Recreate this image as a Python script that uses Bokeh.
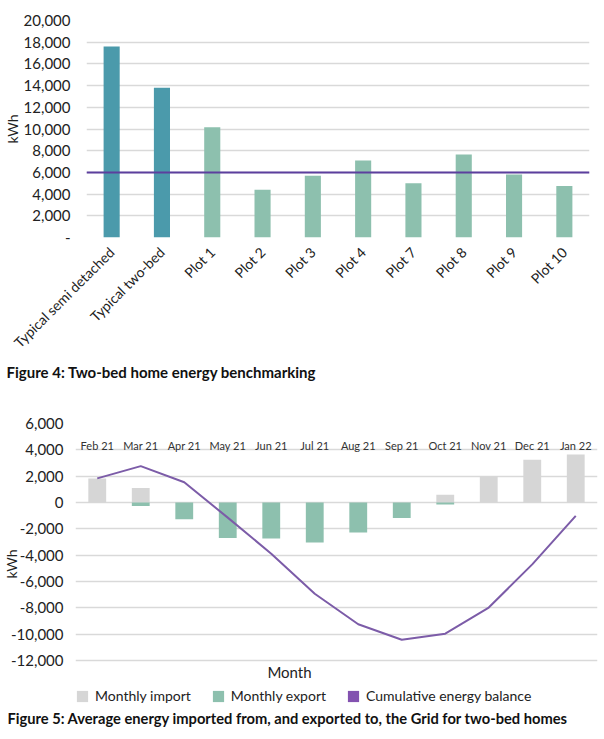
import math
from bokeh.plotting import figure
from bokeh.models import FactorRange, Range1d, Span, Title, Legend, LegendItem, NumeralTickFormatter, FixedTicker, Label
from bokeh.embed import file_html
from bokeh.resources import INLINE
from bokeh.core.properties import value

# ---------------- Figure 4 data ----------------
benchmark_categories = ["Typical semi detached", "Typical two-bed", "Plot 1", "Plot 2", "Plot 3",
                        "Plot 4", "Plot 7", "Plot 8", "Plot 9", "Plot 10"]
benchmark_kwh = [17600, 13800, 10150, 4400, 5700, 7100, 5000, 7650, 5800, 4750]
benchmark_is_typical = [True, True, False, False, False, False, False, False, False, False]
benchmark_target_kwh = 6000
benchmark_y_ticks = [0, 2000, 4000, 6000, 8000, 10000, 12000, 14000, 16000, 18000, 20000]

# ---------------- Figure 5 data ----------------
months = ["Feb 21", "Mar 21", "Apr 21", "May 21", "Jun 21", "Jul 21",
          "Aug 21", "Sep 21", "Oct 21", "Nov 21", "Dec 21", "Jan 22"]
monthly_import = [1830, 1110, 0, 0, 0, 0, 0, 0, 580, 1980, 3240, 3650]
monthly_export = [0, -260, -1270, -2690, -2740, -3040, -2280, -1170, -150, 0, 0, 0]
cumulative_balance = [1830, 2760, 1540, -1150, -3890, -6930, -9250, -10420, -9960, -7980, -4700, -1020]
grid_y_ticks = [-12000, -10000, -8000, -6000, -4000, -2000, 0, 2000, 4000, 6000]

FONT = "Lato"
CAP_FONT = "Lato"
GRID = "#d9d9d9"
DARK_TEAL = "#4b9aab"
LIGHT_TEAL = "#8dc0ae"
GREY = "#d6d6d6"
PURPLE1 = "#5c3f9e"
PURPLE2 = "#7c5ca8"
PURPLE_LEG = "#8352b0"
TEXT = "#222222"

# ================= Figure 4 =================
p1 = figure(x_range=FactorRange(factors=benchmark_categories, range_padding=0),
            y_range=Range1d(0, 20000),
            frame_width=503, frame_height=217,
            min_border_left=80, min_border_right=6, min_border_top=20, min_border_bottom=4,
            output_backend="svg", toolbar_location=None)
bar_colors = [DARK_TEAL if t else LIGHT_TEAL for t in benchmark_is_typical]
p1.vbar(x=benchmark_categories, top=benchmark_kwh, width=0.32, fill_color=bar_colors, line_color=None)
p1.add_layout(Span(location=benchmark_target_kwh, dimension="width", line_color=PURPLE1, line_width=2))

p1.yaxis.ticker = FixedTicker(ticks=benchmark_y_ticks)
p1.ygrid.ticker = FixedTicker(ticks=benchmark_y_ticks)
p1.yaxis.formatter = NumeralTickFormatter(format="0,0")
p1.yaxis.major_label_overrides = {0: "-"}
p1.yaxis.axis_label = "kWh"
p1.xgrid.grid_line_color = None
p1.ygrid.grid_line_color = GRID
p1.ygrid.grid_line_width = 1.5
p1.outline_line_color = None
for ax in (p1.xaxis, p1.yaxis):
    ax.axis_line_color = None
    ax.major_tick_line_color = None
    ax.minor_tick_line_color = None
    ax.major_label_text_font = FONT
    ax.major_label_text_color = TEXT
p1.yaxis.major_label_text_font_size = "15px"
p1.yaxis.major_label_standoff = 10
p1.yaxis.axis_label_text_font = FONT
p1.yaxis.axis_label_text_font_size = "14px"
p1.yaxis.axis_label_text_font_style = "normal"
p1.yaxis.axis_label_text_color = TEXT
p1.yaxis.axis_label_standoff = 0
p1.xaxis.major_label_text_font_size = "14px"
p1.xaxis.major_label_orientation = math.pi / 4
p1.xaxis.major_label_standoff = 6
p1.add_layout(Title(text="Figure 4: Two-bed home energy benchmarking", align="left", offset=-80,
                    standoff=2, text_font=CAP_FONT, text_font_style="bold", text_font_size="15px",
                    text_color="#111111"), "below")

# ================= Figure 5 =================
# frame extends a little below -12,000 so the axis title and key sit inside it
Y2_BOTTOM = -12000 - 18000 * 44 / 237
p2 = figure(x_range=FactorRange(factors=months, range_padding=0),
            y_range=Range1d(Y2_BOTTOM, 6000),
            frame_width=522, frame_height=281,
            min_border_left=68, min_border_right=2, min_border_top=42, min_border_bottom=2,
            output_backend="svg", toolbar_location=None)
r_imp = p2.vbar(x=months, top=monthly_import, bottom=0, width=0.41, fill_color=GREY, line_color=None)
r_exp = p2.vbar(x=months, top=0, bottom=monthly_export, width=0.41, fill_color=LIGHT_TEAL, line_color=None)
r_cum_key = p2.vbar(x=months, top=cumulative_balance, bottom=0, width=0, fill_color=PURPLE_LEG,
                    line_color=None, line_alpha=0)
p2.line(x=months, y=cumulative_balance, line_color=PURPLE2, line_width=2)

LABEL_Y = 4300
p2.text(x=months, y=[LABEL_Y] * len(months), text=months, text_align="center", text_baseline="middle",
        text_font=value(FONT), text_font_size="11px", text_color="#333333")

p2.yaxis.ticker = FixedTicker(ticks=grid_y_ticks)
p2.ygrid.ticker = FixedTicker(ticks=grid_y_ticks)
p2.yaxis.formatter = NumeralTickFormatter(format="0,0")
p2.yaxis.axis_label = "kWh"
p2.xaxis.visible = False
p2.xgrid.grid_line_color = None
p2.ygrid.grid_line_color = GRID
p2.ygrid.grid_line_width = 1.5
p2.outline_line_color = None
p2.yaxis.axis_line_color = None
p2.yaxis.major_tick_line_color = None
p2.yaxis.minor_tick_line_color = None
p2.yaxis.major_label_text_font = FONT
p2.yaxis.major_label_text_color = TEXT
p2.yaxis.major_label_text_font_size = "15px"
p2.yaxis.major_label_standoff = 6
p2.yaxis.axis_label_text_font = FONT
p2.yaxis.axis_label_text_font_size = "14px"
p2.yaxis.axis_label_text_font_style = "normal"
p2.yaxis.axis_label_text_color = TEXT
p2.yaxis.axis_label_standoff = -12

p2.add_layout(Label(x=214, y=33, x_units="screen", y_units="screen", text="Month",
                    text_align="center", text_baseline="middle", text_font=FONT,
                    text_font_size="15px", text_color=TEXT))
legend = Legend(items=[LegendItem(label="Monthly import", renderers=[r_imp]),
                       LegendItem(label="Monthly export", renderers=[r_exp]),
                       LegendItem(label="Cumulative energy balance", renderers=[r_cum_key])],
                orientation="horizontal", location=(0, 0),
                glyph_width=14, glyph_height=14, label_standoff=6, spacing=20,
                padding=0, margin=0, border_line_color=None, background_fill_alpha=0,
                label_text_font=FONT, label_text_font_size="14px", label_text_color=TEXT)
p2.add_layout(legend)
p2.add_layout(Title(text="Figure 5: Average energy imported from, and exported to, the Grid for two-bed homes",
                    align="left", offset=-68, standoff=4, text_font=CAP_FONT, text_font_style="bold",
                    text_font_size="14.7px", text_color="#111111"), "below")

open("out.html", "w").write(file_html([p1, p2], INLINE))
